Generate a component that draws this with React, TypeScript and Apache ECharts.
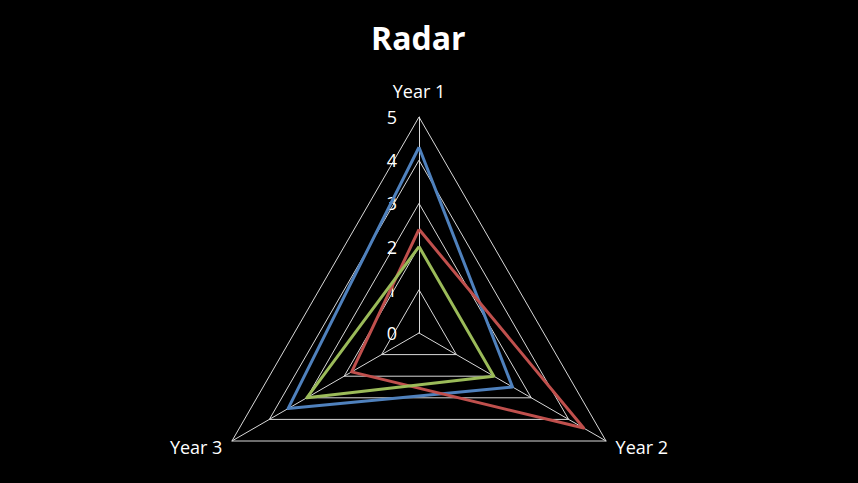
import React, { useEffect, useRef } from "react";
import * as echarts from "echarts";

const indicators = ["Year 1", "Year 2", "Year 3"];
const axisMax = 5;
const series1 = [4.3, 2.5, 3.5];
const series2 = [2.4, 4.4, 1.8];
const series3 = [2, 2, 3];
const seriesNames = ["Series 1", "Series 2", "Series 3"];
const colors = ["#4F81BD", "#C0504D", "#9BBB59"];

export default function App() {
  const ref = useRef<HTMLDivElement>(null);
  useEffect(() => {
    document.body.style.margin = "0";
    const chart = echarts.init(ref.current!, undefined, { renderer: "svg" });
    const font = "'Open Sans', sans-serif";
    const data = [series1, series2, series3];
    // ECharts lays indicators out counter-clockwise; reorder to get clockwise order
    const order = [0, ...indicators.slice(1).map((_, i) => indicators.length - 1 - i)];
    chart.setOption({
      animation: false,
      backgroundColor: "#000000",
      title: {
        text: "Radar",
        left: 366,
        top: 16,
        textStyle: { color: "#ffffff", fontFamily: font, fontSize: 32, fontWeight: "bold" },
      },
      radar: {
        center: [419, 333],
        radius: 216,
        startAngle: 90,
        splitNumber: 5,
        shape: "polygon",
        axisName: {
          color: "#ffffff",
          fontFamily: font,
          fontSize: 18,
          formatter: (name: string) => (name === indicators[0] ? `{top|${name}}` : name),
          rich: {
            top: { color: "#ffffff", fontFamily: font, fontSize: 18, padding: [0, 0, 6, 0] },
          },
        },
        nameGap: 11,
        axisLine: { lineStyle: { color: "#d9d9d9", width: 1 } },
        splitLine: { lineStyle: { color: "#d9d9d9", width: 1 } },
        splitArea: { show: false },
        axisTick: { show: false },
        axisLabel: { show: false },
        indicator: order.map((idx, i) => ({
          name: indicators[idx],
          min: 0,
          max: axisMax,
          ...(i === 0
            ? {
                axisLabel: {
                  show: true,
                  color: "#ffffff",
                  fontFamily: font,
                  fontSize: 18,
                  margin: 22,
                },
              }
            : {}),
        })),
      },
      series: [
        {
          type: "radar",
          symbol: "none",
          data: data.map((v, i) => ({
            name: seriesNames[i],
            value: order.map((idx) => v[idx]),
            lineStyle: { color: colors[i], width: 3 },
            itemStyle: { color: colors[i] },
          })),
        },
      ],
    });
    return () => chart.dispose();
  }, []);
  return <div ref={ref} style={{ width: 858, height: 483 }} />;
}
